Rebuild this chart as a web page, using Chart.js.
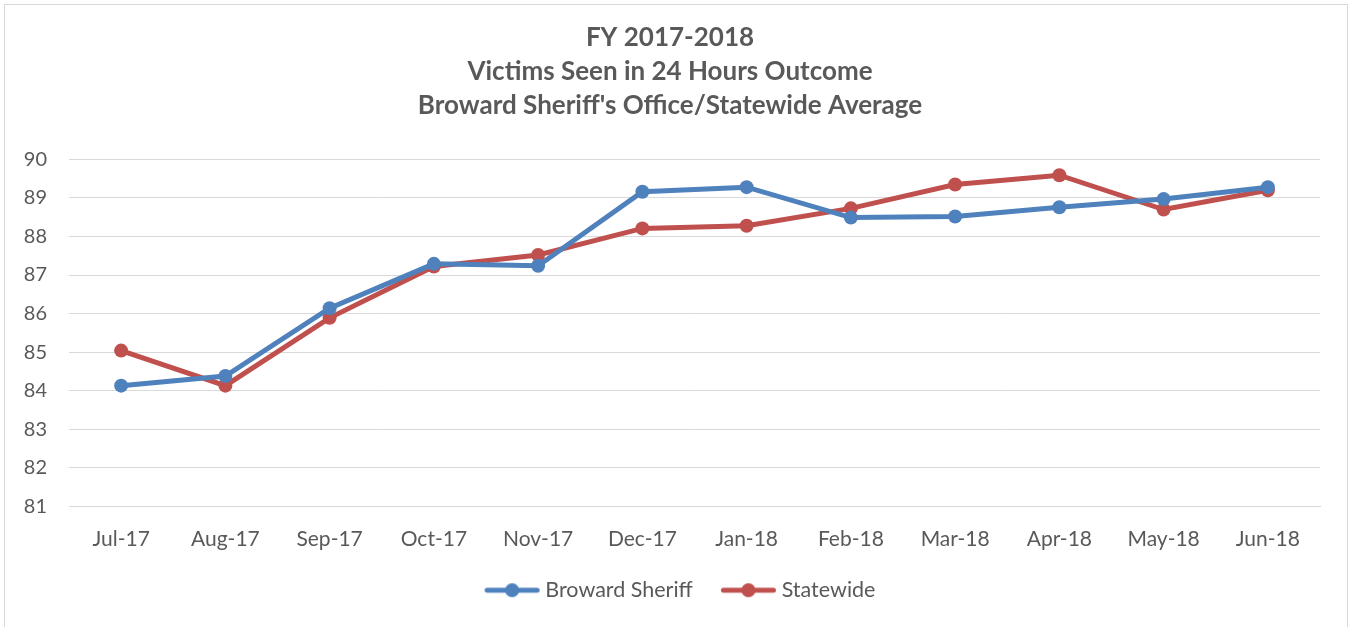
<!DOCTYPE html>
<html>
<head>
<meta charset="utf-8">
<script src="https://cdn.jsdelivr.net/npm/chart.js@4/dist/chart.umd.min.js"></script>
<style>
html,body{margin:0;padding:0;background:#fff;}
#wrap{position:relative;width:1350px;height:627px;}
</style>
</head>
<body>
<div id="wrap"><canvas id="c" width="1350" height="627"></canvas></div>
<script>
const categories = ["Jul-17","Aug-17","Sep-17","Oct-17","Nov-17","Dec-17","Jan-18","Feb-18","Mar-18","Apr-18","May-18","Jun-18"];
const browardSheriff = [84.13, 84.38, 86.14, 87.29, 87.24, 89.16, 89.28, 88.49, 88.52, 88.76, 88.97, 89.28];
const statewide = [85.04, 84.13, 85.89, 87.22, 87.52, 88.21, 88.28, 88.73, 89.35, 89.59, 88.70, 89.20];
const titleLines = ["FY 2017-2018", "Victims Seen in 24 Hours Outcome", "Broward Sheriff's Office/Statewide Average"];
const seriesNames = ["Broward Sheriff", "Statewide"];
const yMin = 81, yMax = 90, yStep = 1;

const BLUE = "#4F81BD", RED = "#C0504D", TEXT = "#595959", GRID = "#D9D9D9";
const FONT = "Lato, 'Open Sans', sans-serif";

// legend icon: line with a dot; transparent space on the left acts as spacing between items
function legendIcon(color){
  const cv = document.createElement('canvas');
  cv.width = 82; cv.height = 16;
  const x = cv.getContext('2d');
  x.strokeStyle = color; x.lineWidth = 5; x.lineCap = 'round';
  x.beginPath(); x.moveTo(28.5,8); x.lineTo(78.5,8); x.stroke();
  x.fillStyle = color; x.beginPath(); x.arc(53.5,8,7,0,Math.PI*2); x.fill();
  return cv;
}

const borderPlugin = {
  id:'border',
  beforeDraw(chart){
    const ctx = chart.ctx;
    ctx.save();
    ctx.fillStyle = '#fff';
    ctx.fillRect(0,0,chart.width,chart.height);
    ctx.strokeStyle = '#D9D9D9'; ctx.lineWidth = 1;
    ctx.strokeRect(4.5,4.5,1343,700);
    ctx.restore();
  }
};

new Chart(document.getElementById('c'), {
  type:'line',
  data:{
    labels: categories,
    datasets:[
      {label: seriesNames[0], data: browardSheriff, borderColor: BLUE, backgroundColor: BLUE,
       borderWidth: 5, pointRadius: 7, pointHoverRadius: 7, pointBackgroundColor: BLUE, pointBorderWidth: 0,
       pointStyle: 'circle', tension: 0, pointStyleIcon: legendIcon(BLUE)},
      {label: seriesNames[1], data: statewide, borderColor: RED, backgroundColor: RED,
       borderWidth: 5, pointRadius: 7, pointHoverRadius: 7, pointBackgroundColor: RED, pointBorderWidth: 0,
       pointStyle: 'circle', tension: 0, pointStyleIcon: legendIcon(RED)}
    ]
  },
  options:{
    responsive:false,
    animation:false,
    layout:{padding:{left:20, right:30, top:8, bottom:16}},
    plugins:{
      title:{display:true, text:titleLines, color:TEXT, font:{family:FONT, size:26, weight:'bold', lineHeight:1.3}, padding:{top:13,bottom:37}},
      legend:{position:'bottom', labels:{
        usePointStyle:true, pointStyleWidth:70, boxHeight:16, color:TEXT, font:{family:FONT,size:21.5}, padding:8,
        generateLabels(chart){
          return chart.data.datasets.map((d,i)=>({text:d.label, pointStyle:d.pointStyleIcon, fillStyle:d.borderColor, strokeStyle:d.borderColor, lineWidth:0, datasetIndex:i, fontColor:TEXT}));
        }
      }},
      tooltip:{enabled:false}
    },
    scales:{
      x:{
        offset:true,
        grid:{display:false, drawTicks:false},
        border:{display:true, color:GRID, width:1},
        ticks:{color:TEXT, font:{family:FONT,size:21}, padding:20, maxRotation:0}
      },
      y:{
        min:yMin, max:yMax,
        grid:{color:GRID, lineWidth:1, drawTicks:false},
        border:{display:false},
        ticks:{stepSize:yStep, color:TEXT, font:{family:FONT,size:20}, padding:22},
        afterFit(scale){ scale.width = 49; }
      }
    }
  },
  plugins:[borderPlugin]
});
</script>
</body>
</html>
